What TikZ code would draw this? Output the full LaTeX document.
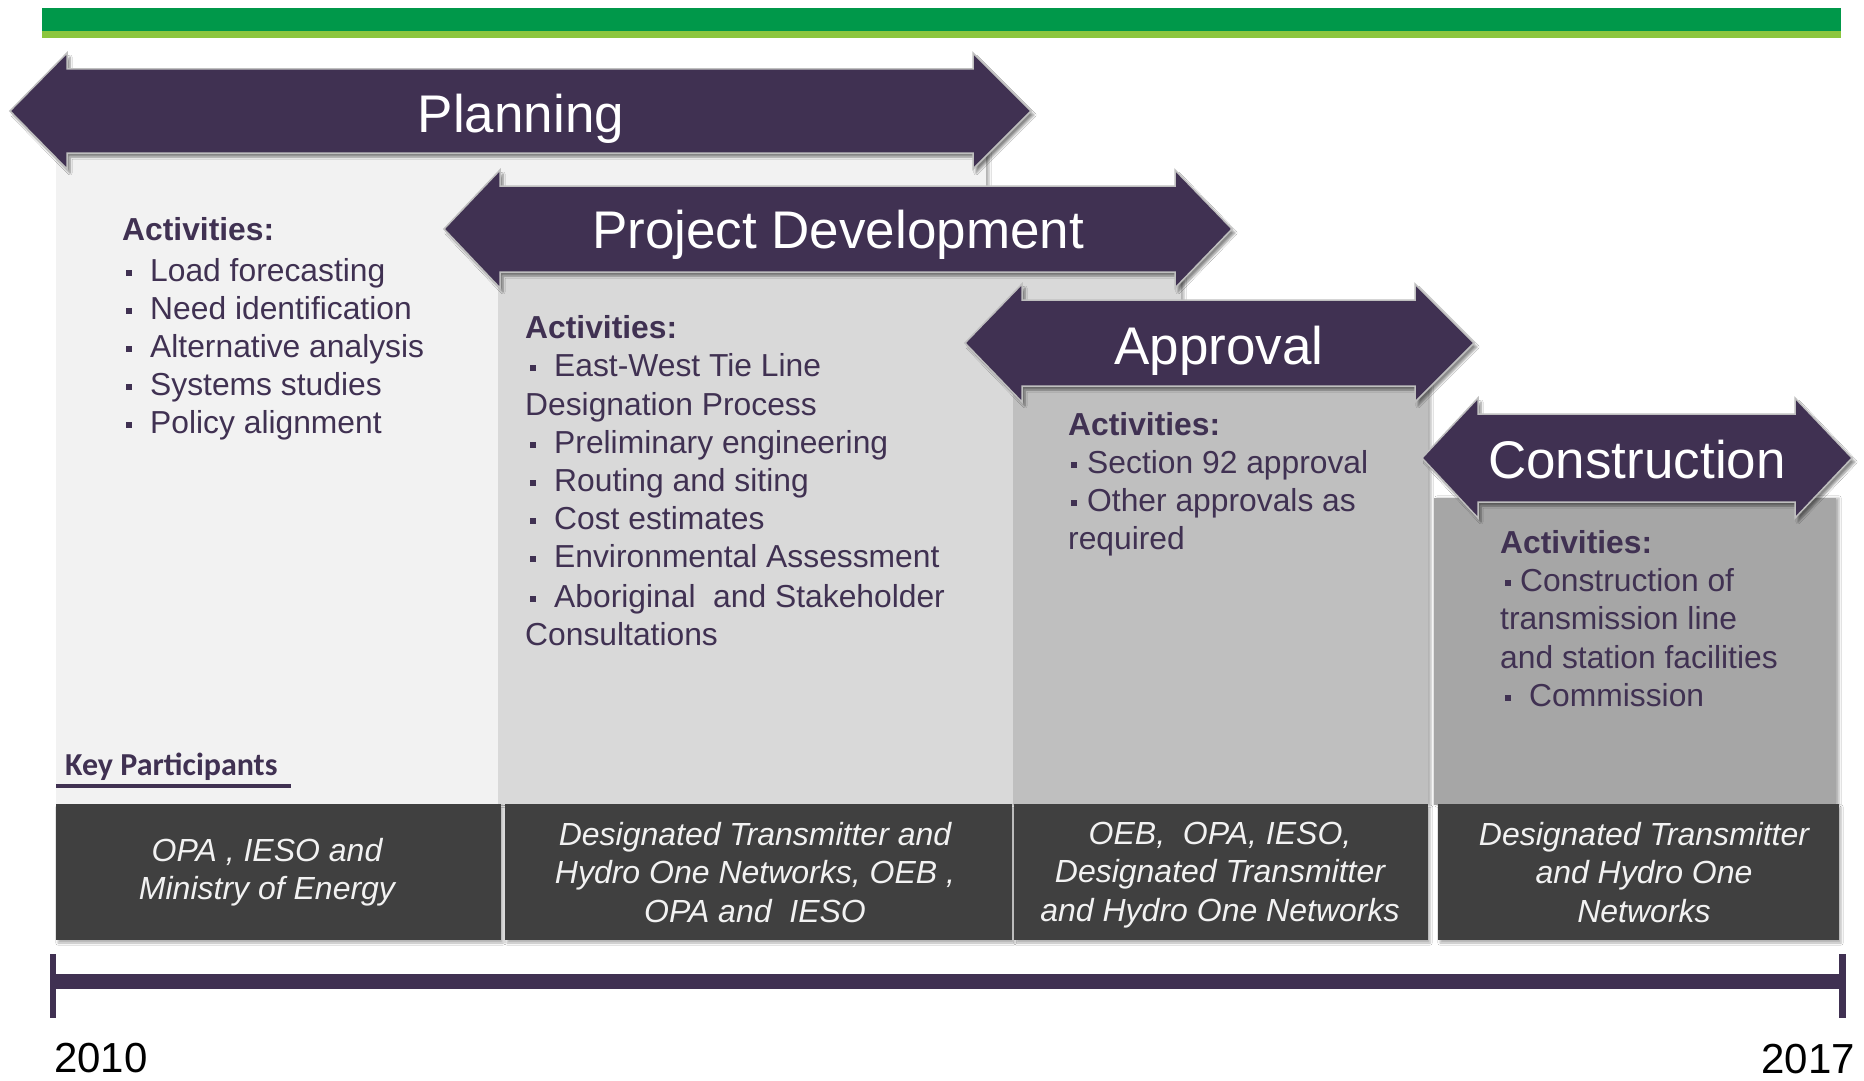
\documentclass[tikz,border=0pt]{standalone}
\usepackage{fontspec}
\setmainfont{Liberation Sans}
\newfontfamily\calibrifont{Carlito}
\usetikzlibrary{shadows.blur}
\definecolor{purp}{HTML}{403152}
\definecolor{dkgreen}{HTML}{00984A}
\definecolor{ltgreen}{HTML}{8CC63E}
\definecolor{panelA}{HTML}{F2F2F2}
\definecolor{panelB}{HTML}{D9D9D9}
\definecolor{panelC}{HTML}{BFBFBF}
\definecolor{panelD}{HTML}{A6A6A6}
\definecolor{boxgrey}{HTML}{404040}
\definecolor{boxtext}{HTML}{F2F2F2}
\newcommand\sqb{\rule[0.17em]{0.19em}{0.19em}}
\newcommand\dblarrow[7]{%
  \path[phasearrow] (#1,#5) -- (#2,{#5-#6}) -- (#2,{#5-#7}) -- (#3,{#5-#7}) -- (#3,{#5-#6})
    -- (#4,#5) -- (#3,{#5+#6}) -- (#3,{#5+#7}) -- (#2,{#5+#7}) -- (#2,{#5+#6}) -- cycle;}
\tikzset{
  phasearrow/.style={fill=purp, draw=gray!50, line width=1.5pt, line join=miter,
    blur shadow={shadow xshift=3pt, shadow yshift=-4pt, shadow blur steps=6, shadow opacity=45}},
  panel/.style={blur shadow={shadow xshift=3pt, shadow yshift=0pt, shadow blur steps=4, shadow opacity=30}},
  partbox/.style={fill=boxgrey, blur shadow={shadow xshift=2pt, shadow yshift=-3pt, shadow blur steps=4, shadow opacity=30}},
  phaselabel/.style={text=white, font=\fontsize{53}{60}\selectfont, inner sep=0pt, anchor=base},
  act/.style={text=purp, font=\fontsize{31.8}{38}\selectfont, inner sep=0pt, anchor=base west},
  acthead/.style={text=purp, font=\bfseries\fontsize{31.8}{38}\selectfont, inner sep=0pt, anchor=base west},
  part/.style={text=boxtext, font=\itshape\fontsize{32}{38.5}\selectfont, align=center, inner sep=0pt},
  yearlabel/.style={text=black, font=\fontsize{42}{48}\selectfont, inner sep=0pt},
}
\begin{document}
\begin{tikzpicture}[x=1pt,y=-1pt]
\useasboundingbox[fill=white] (0,0) rectangle (1864,1081);
% top green bar
\fill[dkgreen] (42,8) rectangle (1841,31);
\fill[ltgreen] (42,31) rectangle (1841,38);

% Planning
\fill[panelA, panel] (56,150) rectangle (986,805);
\dblarrow{10}{67}{973}{1031}{111}{58}{42}
\node[phaselabel] (lplan) at (521,132) {Planning};

% Project Development
\fill[panelB, panel] (498,268) rectangle (1181,805);
\dblarrow{444}{500}{1175}{1232}{229}{59}{43}
\node[phaselabel] (lpd) at (838,248.5) {Project Development};

% Approval
\fill[panelC, panel] (1013,382) rectangle (1428,805);
\dblarrow{965}{1022}{1415}{1474}{343}{59}{43}
\node[phaselabel] (lapp) at (1219,364) {Approval};

% Construction
\fill[panelD, panel] (1434,498) rectangle (1836,805);
\dblarrow{1422}{1478}{1795}{1852}{458}{60}{44}
\node[phaselabel] (lcon) at (1637,478) {Construction};

% Planning activities
\node[acthead] (pa0) at (122,240.5) {Activities:};
\node[act] (pa1) at (126,281) {\makebox[24pt][l]{\sqb}Load forecasting};
\node[act] (pa2) at (126,319) {\makebox[24pt][l]{\sqb}Need identification};
\node[act] (pa3) at (126,357) {\makebox[24pt][l]{\sqb}Alternative analysis};
\node[act] (pa4) at (126,395) {\makebox[24pt][l]{\sqb}Systems studies};
\node[act] (pa5) at (126,433) {\makebox[24pt][l]{\sqb}Policy alignment};

% PD activities
\node[acthead] (da0) at (525,338) {Activities:};
\node[act] (da1) at (530,376) {\makebox[24pt][l]{\sqb}East-West Tie Line};
\node[act] (da2) at (525,415) {Designation Process};
\node[act] (da3) at (530,453) {\makebox[24pt][l]{\sqb}Preliminary engineering};
\node[act] (da4) at (530,491) {\makebox[24pt][l]{\sqb}Routing and siting};
\node[act] (da5) at (530,529) {\makebox[24pt][l]{\sqb}Cost estimates};
\node[act] (da6) at (530,567) {\makebox[24pt][l]{\sqb}Environmental Assessment};
\node[act] (da7) at (530,607) {\makebox[24pt][l]{\sqb}Aboriginal\ \ and Stakeholder};
\node[act] (da8) at (525,645) {Consultations};

% Approval activities
\node[acthead] (aa0) at (1068,435.5) {Activities:};
\node[act] (aa1) at (1071,473.5) {\makebox[16pt][l]{\sqb}Section 92 approval};
\node[act] (aa2) at (1071,511.5) {\makebox[16pt][l]{\sqb}Other approvals as};
\node[act] (aa3) at (1068,549.5) {required};

% Construction activities
\node[acthead] (ca0) at (1500,553) {Activities:};
\node[act] (ca1) at (1505,591) {\makebox[15pt][l]{\sqb}Construction of};
\node[act] (ca2) at (1500,629) {transmission line};
\node[act] (ca3) at (1500,668.5) {and station facilities};
\node[act] (ca4) at (1505,706.5) {\makebox[24pt][l]{\sqb}Commission};

% Key participants
\node[text=purp, font=\calibrifont\bfseries\fontsize{32}{37}\selectfont, inner sep=0pt, anchor=base west] (kp) at (65,775) {Key Participants};
\fill[purp] (56,783.5) rectangle (291,787.5);

% participant boxes
\fill[partbox] (56,804) rectangle (501,940);
\fill[partbox] (505,804) rectangle (1012,940);
\fill[partbox] (1014,804) rectangle (1428,940);
\fill[partbox] (1438,804) rectangle (1839,940);
\node[part] (k1) at (267,872) {OPA , IESO and\\Ministry of Energy};
\node[part] (k2) at (755,872.5) {Designated Transmitter and\\Hydro One Networks, OEB ,\\OPA and\ \ IESO};
\node[part] (k3) at (1220,875) {OEB,\ \ OPA, IESO,\\Designated Transmitter\\and Hydro One Networks};
\node[part] (k4) at (1644,872.5) {Designated Transmitter\\and Hydro One\\Networks};

% timeline
\coordinate (t0) at (53,981.5);
\coordinate (t1) at (1843,981.5);
\draw[purp, line width=15pt] (t0) -- (t1);
\fill[purp] (50,954) rectangle (56,1018);
\fill[purp] (1839,954) rectangle (1846,1018);
\node[yearlabel, anchor=base west] (y0) at (54,1072) {2010};
\node[yearlabel, anchor=base east] (y1) at (1855,1073) {2017};
\end{tikzpicture}
\end{document}
